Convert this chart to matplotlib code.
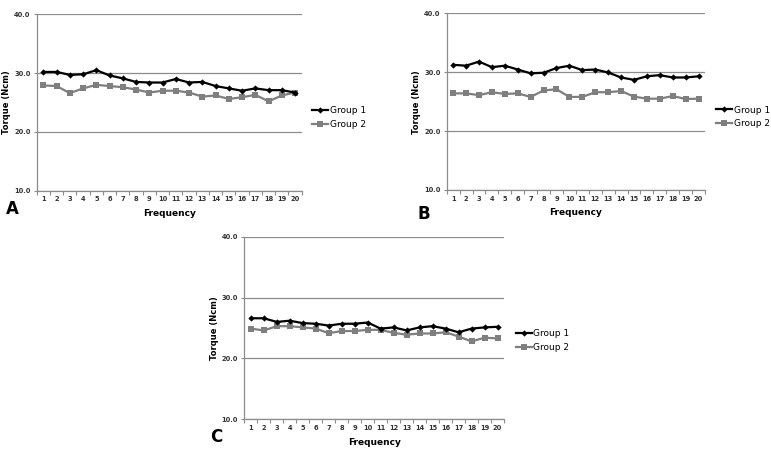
import matplotlib
matplotlib.use("Agg")
import matplotlib.pyplot as plt
import numpy as np

freq = list(range(1, 21))

a_group1 = [30.2, 30.2, 29.7, 29.8, 30.5, 29.6, 29.1, 28.5, 28.4, 28.4,
            29.0, 28.4, 28.5, 27.8, 27.4, 27.0, 27.4, 27.1, 27.1, 26.7]
a_group2 = [27.9, 27.8, 26.6, 27.4, 28.0, 27.8, 27.6, 27.2, 26.7, 27.0,
            27.0, 26.7, 26.0, 26.2, 25.6, 25.9, 26.3, 25.2, 26.2, 26.7]

b_group1 = [31.25, 31.1, 31.8, 30.85, 31.1, 30.45, 29.8, 29.9, 30.7, 31.1,
            30.35, 30.45, 29.95, 29.1, 28.7, 29.3, 29.5, 29.1, 29.1, 29.3]
b_group2 = [26.4, 26.4, 26.1, 26.6, 26.3, 26.4, 25.8, 26.9, 27.1, 25.8,
            25.8, 26.6, 26.6, 26.8, 25.85, 25.5, 25.5, 25.95, 25.45, 25.5]

c_group1 = [26.6, 26.6, 26.0, 26.2, 25.8, 25.7, 25.4, 25.7, 25.7, 25.9,
            24.9, 25.1, 24.6, 25.1, 25.3, 24.9, 24.3, 24.9, 25.1, 25.2]
c_group2 = [24.9, 24.6, 25.3, 25.3, 25.1, 24.9, 24.15, 24.5, 24.5, 24.7,
            24.7, 24.2, 23.9, 24.1, 24.1, 24.3, 23.6, 22.8, 23.4, 23.3]

series_labels = ["Group 1", "Group 2"]
panel_letters = ["A", "B", "C"]
yticks = [10, 20, 30, 40]

fig = plt.figure(figsize=(7.71, 4.5), dpi=100)

panels = [
    ([0.0476, 0.5762, 0.3437, 0.392], a_group1, a_group2, (0.4047, 0.739), (0.008, 0.515)),
    ([0.5794, 0.5778, 0.335, 0.3927], b_group1, b_group2, (0.9287, 0.740), (0.542, 0.505)),
    ([0.3169, 0.0682, 0.3368, 0.4058], c_group1, c_group2, (0.669, 0.2433), (0.273, 0.008)),
]

grid_col = "#8c8c8c"
for (rect, g1, g2, leg_pos, let_pos), letter in zip(panels, panel_letters):
    ax = fig.add_axes(rect)
    ax.plot(freq, g1, color="black", lw=1.6, marker="D", ms=3.2,
            markeredgewidth=0, label=series_labels[0], zorder=4)
    ax.plot(freq, g2, color="#7f7f7f", lw=1.6, marker="s", ms=4.5,
            markeredgewidth=0, label=series_labels[1], zorder=3)
    ax.set_xlim(0.5, 20.5)
    ax.set_ylim(10, 40)
    ax.set_yticks(yticks)
    ax.set_yticklabels([f"{v:.1f}" for v in yticks], fontsize=4.8, fontweight="bold",
                       color="#333333")
    ax.set_xticks(freq)
    ax.set_xticklabels([str(f) for f in freq], fontsize=4.8, fontweight="bold",
                       color="#333333")
    ax.tick_params(axis="x", length=0, pad=4)
    ax.tick_params(axis="y", length=2.5, width=0.8, color=grid_col, pad=2)
    ax.set_xticks(np.arange(0.5, 21, 1), minor=True)
    ax.tick_params(axis="x", which="minor", length=3, width=0.8, color=grid_col)
    ax.yaxis.grid(True, color=grid_col, lw=0.9)
    ax.set_axisbelow(True)
    for s in ["top", "right"]:
        ax.spines[s].set_visible(False)
    for s in ["left", "bottom"]:
        ax.spines[s].set_color(grid_col)
        ax.spines[s].set_linewidth(0.9)
    ax.set_ylabel("Torque (Ncm)", fontsize=6, fontweight="bold", labelpad=2)
    ax.set_xlabel("Frequency", fontsize=6.5, fontweight="bold", labelpad=5)
    fig.legend(handles=ax.get_lines(), labels=series_labels, loc="center left",
               bbox_to_anchor=leg_pos, frameon=False, fontsize=6.5,
               handlelength=1.8, handletextpad=0.15, labelspacing=0.55,
               borderpad=0, borderaxespad=0)
    fig.text(let_pos[0], let_pos[1], letter, fontsize=12, fontweight="bold",
             ha="left", va="bottom")

fig.savefig("out.png", dpi=100)
